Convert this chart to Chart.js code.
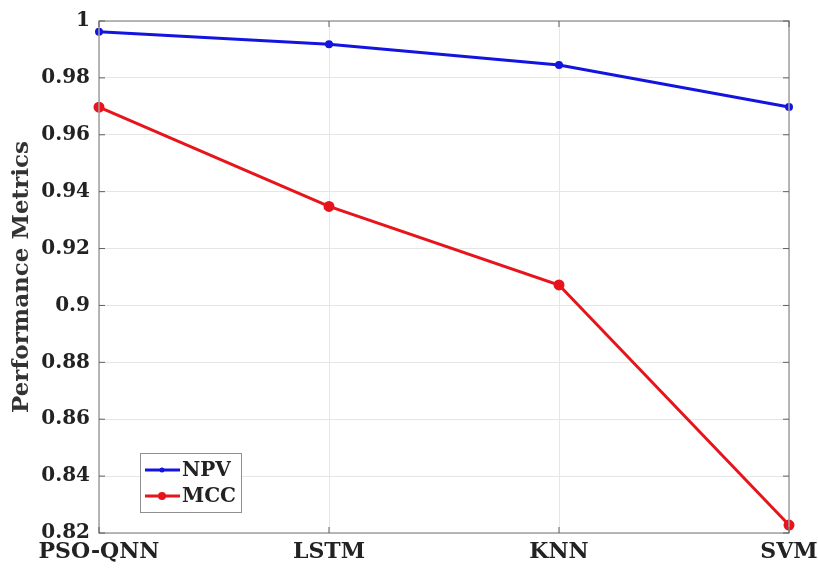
<!DOCTYPE html>
<html>
<head>
<meta charset="utf-8">
<script src="https://cdn.jsdelivr.net/npm/chart.js@4.4.1/dist/chart.umd.min.js"></script>
<style>
  html, body { margin: 0; padding: 0; background: #fff; }
  #wrap { width: 818px; height: 569px; }
</style>
</head>
<body>
<div id="wrap"><canvas id="metricsChart" width="818" height="569"></canvas></div>
<script>
// data
var models = ['PSO-QNN', 'LSTM', 'KNN', 'SVM'];
var npvValues = [0.9962, 0.9918, 0.9845, 0.9698];
var mccValues = [0.9697, 0.9348, 0.9072, 0.8228];
var yTicks = [0.82, 0.84, 0.86, 0.88, 0.9, 0.92, 0.94, 0.96, 0.98, 1];

var serif = '"DejaVu Serif", "Liberation Serif", serif';

// box around the plot plus inward tick marks, like MATLAB
var boxPlugin = {
    id: 'boxPlugin',
    afterDatasetsDraw: function(chart) {
        var a = chart.chartArea;
        var c = chart.ctx;
        c.save();
        c.strokeStyle = '#a0a0a0';
        c.lineWidth = 1.5;
        c.strokeRect(a.left, a.top, a.right - a.left, a.bottom - a.top);
        c.strokeStyle = '#606060';
        c.lineWidth = 1;
        var ys = chart.scales.y;
        yTicks.forEach(function(t) {
            var py = ys.getPixelForValue(t);
            c.beginPath();
            c.moveTo(a.left, py); c.lineTo(a.left + 6, py);
            c.moveTo(a.right, py); c.lineTo(a.right - 6, py);
            c.stroke();
        });
        var xs = chart.scales.x;
        models.forEach(function(m, i) {
            var px = xs.getPixelForValue(i);
            c.beginPath();
            c.moveTo(px, a.bottom); c.lineTo(px, a.bottom - 6);
            c.moveTo(px, a.top); c.lineTo(px, a.top + 6);
            c.stroke();
        });
        c.restore();
    }
};

// legend box inside the plot, lower left
var insideLegend = {
    id: 'insideLegend',
    afterDraw: function(chart) {
        var c = chart.ctx;
        var x0 = 140, y0 = 453, w = 101, h = 59;
        c.save();
        c.fillStyle = '#fff';
        c.fillRect(x0, y0, w, h);
        c.strokeStyle = '#909090';
        c.lineWidth = 1;
        c.strokeRect(x0 + 0.5, y0 + 0.5, w, h);
        chart.data.datasets.forEach(function(ds, i) {
            var yy = y0 + 17 + i * 26;
            c.strokeStyle = ds.borderColor;
            c.lineWidth = 3;
            c.beginPath();
            c.moveTo(x0 + 5, yy); c.lineTo(x0 + 40, yy);
            c.stroke();
            c.fillStyle = ds.borderColor;
            c.beginPath();
            c.arc(x0 + 22, yy, ds.pointRadius, 0, Math.PI * 2);
            c.fill();
            c.fillStyle = '#222';
            c.font = 'bold 20px ' + serif;
            c.textBaseline = 'middle';
            c.fillText(ds.label, x0 + 42, yy + 1);
        });
        c.restore();
    }
};

var ctx = document.getElementById('metricsChart').getContext('2d');
var metricsChart = new Chart(ctx, {
    type: 'line',
    data: {
        labels: models,
        datasets: [{
            label: 'NPV',
            data: npvValues,
            borderColor: 'rgb(20, 20, 225)',
            backgroundColor: 'rgb(20, 20, 225)',
            borderWidth: 3,
            pointRadius: 2.5,
            pointHoverRadius: 2.5,
            tension: 0
        }, {
            label: 'MCC',
            data: mccValues,
            borderColor: 'rgb(232, 20, 28)',
            backgroundColor: 'rgb(232, 20, 28)',
            borderWidth: 3,
            pointRadius: 4,
            pointHoverRadius: 4,
            tension: 0
        }]
    },
    options: {
        responsive: false,
        animation: false,
        layout: { padding: { top: 20, right: 29, left: 0, bottom: 0 } },
        plugins: {
            legend: { display: false },
            tooltip: { enabled: false }
        },
        scales: {
            x: {
                offset: false,
                grid: { color: '#e6e6e6', drawTicks: false },
                border: { display: false },
                ticks: {
                    color: '#222',
                    font: { family: serif, size: 22, weight: 'bold' },
                    padding: 6,
                    maxRotation: 0
                },
                afterFit: function(scale) {
                    scale.height = 36;
                    // let the last label run into the margin
                    scale.paddingRight = 0;
                    scale.paddingLeft = 0;
                }
            },
            y: {
                min: 0.82,
                max: 1,
                afterBuildTicks: function(scale) {
                    scale.ticks = yTicks.map(function(v) { return { value: v }; });
                },
                grid: { color: '#e6e6e6', drawTicks: false },
                border: { display: false },
                ticks: {
                    color: '#222',
                    font: { family: serif, size: 20, weight: 'bold' },
                    padding: 9,
                    callback: function(v) { return String(+v.toFixed(2)); }
                },
                title: {
                    display: true,
                    text: 'Performance Metrics',
                    color: '#333',
                    font: { family: serif, size: 23, weight: 'bold' },
                    padding: { top: 8, bottom: 4 }
                },
                afterFit: function(scale) { scale.width = 99; }
            }
        }
    },
    plugins: [boxPlugin, insideLegend]
});
</script>
</body>
</html>
